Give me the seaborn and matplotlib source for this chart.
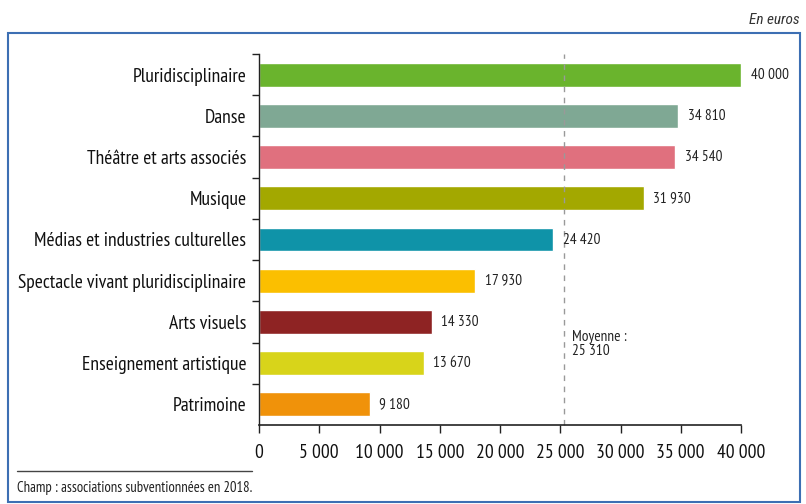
import matplotlib
matplotlib.use("Agg")
import matplotlib.pyplot as plt
import seaborn as sns
import pandas as pd
from matplotlib.patches import Rectangle
from matplotlib.lines import Line2D

categories = ["Pluridisciplinaire", "Danse", "Théâtre et arts associés", "Musique",
              "Médias et industries culturelles", "Spectacle vivant pluridisciplinaire",
              "Arts visuels", "Enseignement artistique", "Patrimoine"]
values = [40000, 34810, 34540, 31930, 24420, 17930, 14330, 13670, 9180]
colors = ["#6ab42d", "#7fa894", "#e0707e", "#a3a800", "#0f93a8", "#fbbf00",
          "#8e2323", "#d8d41a", "#f0920a"]
mean_value = 25310
xticks = [0, 5000, 10000, 15000, 20000, 25000, 30000, 35000, 40000]

def fmt(v):
    return f"{v:,}".replace(",", " ")

sns.set_theme(style="white")
plt.rcParams["font.family"] = ["PT Sans Narrow", "DejaVu Sans"]

df = pd.DataFrame({"cat": categories, "val": values})

fig = plt.figure(figsize=(8.06, 5.04), dpi=100)
ax = fig.add_axes([259/806, 1-425/504, (741-259)/806, (425-54)/504])
sns.barplot(data=df, x="val", y="cat", hue="cat", palette=colors, legend=False,
            width=0.58, ax=ax, saturation=1)
ax.set_xlim(0, 40000)
ax.set_ylim(len(categories) - 0.5, -0.5)
ax.set_xlabel("")
ax.set_ylabel("")
ax.set_xticks(xticks)
ax.set_xticklabels([fmt(t) for t in xticks], fontsize=14)
ax.set_yticks([i - 0.5 for i in range(len(categories))], minor=True)
ax.tick_params(axis="y", which="major", length=0, labelsize=14, pad=9, labelcolor="#111111")
ax.tick_params(axis="y", which="minor", left=True, length=5, width=1, color="#222222")
ax.tick_params(axis="x", length=6, width=1, direction="out", pad=8, color="#222222",
               labelcolor="#111111")
ax.tick_params(axis="x", which="major", bottom=True)
for s in ["top", "right"]:
    ax.spines[s].set_visible(False)
ax.spines["left"].set_color("#222222")
ax.spines["bottom"].set_color("#222222")
ax.spines["left"].set_linewidth(1)
ax.spines["bottom"].set_linewidth(1.2)

ax.axvline(mean_value, color="#999999", linestyle=(0, (4, 4)), linewidth=1,
           ymin=0, ymax=1.0, clip_on=False)
ax.text(mean_value + 700, 6.2, "Moyenne :\n" + fmt(mean_value), fontsize=11,
        va="top", ha="left", color="#222222", linespacing=1.0)

for i, v in enumerate(values):
    ax.text(v + 800, i, fmt(v), va="center", ha="left", fontsize=11, color="#222222")

# Frame
fig.patches.append(Rectangle((8/806, 1-502/504), (800-8)/806, (502-33)/504,
                             transform=fig.transFigure, fill=False,
                             edgecolor="#3d6fb3", linewidth=1.5))
fig.lines.append(Line2D([17/806, 252/806], [1-471/504, 1-471/504],
                        transform=fig.transFigure, color="#444444", linewidth=1))
fig.text(17/806, 1-488/504, "Champ : associations subventionnées en 2018.",
         fontsize=10.5, va="center", ha="left", color="#222222")
fig.text(800/806, 1-20/504, "En euros", fontsize=11, style="italic",
         family=["Roboto Condensed", "DejaVu Sans"],
         va="center", ha="right", color="#333333")

fig.savefig("out.png", dpi=100)
